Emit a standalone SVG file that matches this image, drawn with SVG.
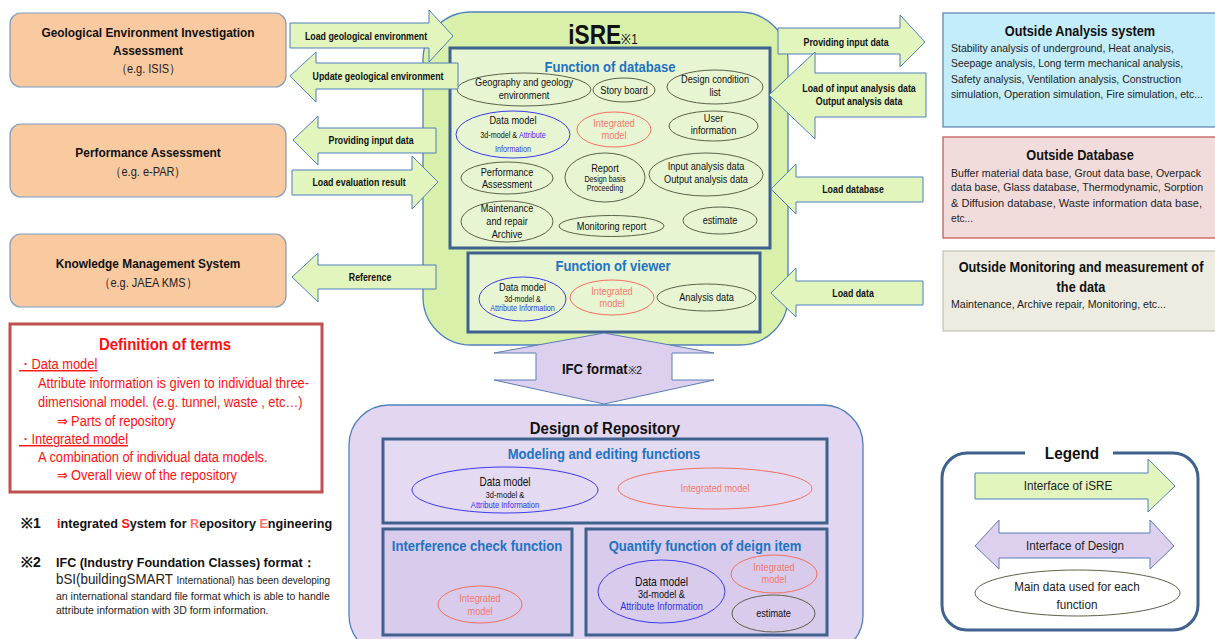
<svg xmlns="http://www.w3.org/2000/svg" width="1215" height="639" viewBox="0 0 1215 639">
<style>
  text { font-family: 'Liberation Sans', Arial, sans-serif; fill: #111; transform-box: fill-box; transform-origin: center; }
  .sysbox { fill: #F9C9A0; stroke: #7F9DC6; stroke-width: 1.2; }
  .sysT { font-size: 13.5px; font-weight: bold; text-anchor: middle; transform: scaleX(0.88); }
  .sysS { font-size: 12.5px; text-anchor: middle; fill: #222; transform: scaleX(0.88); }
  .garrow { fill: #E1F5BD; stroke: #4F7FBE; stroke-width: 1; }
  .parrow { fill: #DDD0EF; stroke: #5A7DB5; stroke-width: 1; }
  .albl { font-size: 11px; font-weight: bold; text-anchor: middle; transform: scaleX(0.8); }
  .panel { stroke: #3E618E; stroke-width: 3; }
  .ptitle { font-size: 14.5px; font-weight: bold; fill: #1E73C2; text-anchor: middle; transform: scaleX(0.9); }
  .el { fill: none; stroke: #5B6148; stroke-width: 1; }
  .elB { fill: none; stroke: #3B3BF0; stroke-width: 1; }
  .elR { fill: none; stroke: #F2705E; stroke-width: 1; }
  .et { font-size: 11.5px; text-anchor: middle; transform: scaleX(0.8); }
  .es { font-size: 9px; text-anchor: middle; transform: scaleX(0.8); }
  .blue { fill: #3333EE; }
  .red { fill: #F47A6A; }
  .outT { font-size: 14px; font-weight: bold; text-anchor: middle; transform: scaleX(0.91); }
  .outB { font-size: 10.4px; fill: #222; }
  .def { font-size: 14px; fill: #FF1010; transform-origin: left center; transform: scaleX(0.92); }
  .leg { font-size: 13px; text-anchor: middle; fill: #222; transform: scaleX(0.9); }
  .big { font-weight: bold; text-anchor: middle; transform: scaleX(0.88); }
</style>

<!-- external systems on the left -->
<g id="geo-assessment">
  <rect class="sysbox" x="10" y="13" width="276" height="74" rx="11"/>
  <text class="sysT" x="148" y="37">Geological Environment Investigation</text>
  <text class="sysT" x="148" y="55">Assessment</text>
  <text class="sysS" x="148" y="73">（e.g. ISIS）</text>
</g>
<g id="performance-assessment">
  <rect class="sysbox" x="10" y="124" width="276" height="73" rx="11"/>
  <text class="sysT" x="148" y="157">Performance Assessment</text>
  <text class="sysS" x="148" y="176">（e.g. e-PAR）</text>
</g>
<g id="knowledge-management">
  <rect class="sysbox" x="10" y="234" width="276" height="73" rx="11"/>
  <text class="sysT" x="148" y="268">Knowledge Management System</text>
  <text class="sysS" x="148" y="287">（e.g. JAEA KMS）</text>
</g>

<!-- iSRE core -->
<g id="isre">
  <rect x="423" y="12" width="365" height="333" rx="48" fill="#D8F0AA" stroke="#4F81BD" stroke-width="1.3"/>
  <text class="big" x="603" y="44" style="font-size:27px;transform:scaleX(0.84)">iSRE<tspan style="font-size:14px;font-weight:normal">※1</tspan></text>
</g>

<g id="function-of-database">
  <rect class="panel" x="450" y="48" width="320" height="200" fill="#E8F5D3"/>
  <text class="ptitle" x="610" y="72">Function of database</text>
  <ellipse class="el" cx="524" cy="89.5" rx="67" ry="16.5"/>
  <text class="et" x="524" y="86">Geography and geology</text>
  <text class="et" x="524" y="99">environment</text>
  <ellipse class="el" cx="624" cy="90" rx="31" ry="12"/>
  <text class="et" x="624" y="94">Story board</text>
  <ellipse class="el" cx="715" cy="87" rx="48" ry="17"/>
  <text class="et" x="715" y="83">Design condition</text>
  <text class="et" x="715" y="96">list</text>
  <ellipse class="elB" cx="513" cy="134.5" rx="57" ry="23.5"/>
  <text class="et" x="513" y="124">Data model</text>
  <text class="es" x="513" y="138">3d-model  &amp;  <tspan class="blue">Attribute</tspan></text>
  <text class="es blue" x="513" y="152">Information</text>
  <ellipse class="elR" cx="614" cy="129.5" rx="37" ry="17.5"/>
  <text class="et red" x="614" y="127">Integrated</text>
  <text class="et red" x="614" y="139">model</text>
  <ellipse class="el" cx="713.5" cy="126" rx="44.5" ry="15"/>
  <text class="et" x="713.5" y="122">User</text>
  <text class="et" x="713.5" y="134">information</text>
  <ellipse class="el" cx="507" cy="178" rx="46" ry="16"/>
  <text class="et" x="507" y="176">Performance</text>
  <text class="et" x="507" y="188">Assessment</text>
  <ellipse class="el" cx="605" cy="177.5" rx="40" ry="24.5"/>
  <text class="et" x="605" y="172">Report</text>
  <text class="es" x="605" y="182">Design basis</text>
  <text class="es" x="605" y="191">Proceeding</text>
  <ellipse class="el" cx="706" cy="174.5" rx="57" ry="21.5"/>
  <text class="et" x="706" y="170">Input analysis data</text>
  <text class="et" x="706" y="183">Output analysis data</text>
  <ellipse class="el" cx="507" cy="221.5" rx="46" ry="20.5"/>
  <text class="et" x="507" y="212">Maintenance</text>
  <text class="et" x="507" y="225">and repair</text>
  <text class="et" x="507" y="238">Archive</text>
  <ellipse class="el" cx="611.5" cy="226" rx="52.5" ry="10.5"/>
  <text class="et" x="611.5" y="230">Monitoring report</text>
  <ellipse class="el" cx="720" cy="220.5" rx="37" ry="13.5"/>
  <text class="et" x="720" y="224.5">estimate</text>
</g>

<g id="function-of-viewer">
  <rect class="panel" x="468" y="253" width="292" height="79" fill="#E8F5D3"/>
  <text class="ptitle" x="613" y="271">Function of viewer</text>
  <ellipse class="elB" cx="522.5" cy="299" rx="43.5" ry="22"/>
  <text class="et" x="522.5" y="291">Data model</text>
  <text class="es" x="522.5" y="302">3d-model &amp;</text>
  <text class="es blue" x="522.5" y="311">Attribute Information</text>
  <ellipse class="elR" cx="612" cy="297.5" rx="42" ry="17.5"/>
  <text class="et red" x="612" y="295">Integrated</text>
  <text class="et red" x="612" y="307">model</text>
  <ellipse class="el" cx="706.5" cy="297.5" rx="49.5" ry="13.5"/>
  <text class="et" x="706.5" y="301.5">Analysis data</text>
</g>

<!-- external systems on the right -->
<g id="outside-analysis">
  <rect x="943" y="13" width="275" height="114" fill="#C4EDFB" stroke="#5B7FB0" stroke-width="1.2"/>
  <text class="outT" x="1080" y="36">Outside Analysis system</text>
  <text class="outB" x="951" y="52" textLength="223" lengthAdjust="spacingAndGlyphs">Stability  analysis of underground, Heat analysis,</text>
  <text class="outB" x="951" y="67" textLength="232" lengthAdjust="spacingAndGlyphs">Seepage analysis,  Long term mechanical  analysis,</text>
  <text class="outB" x="951" y="83" textLength="230" lengthAdjust="spacingAndGlyphs">Safety  analysis, Ventilation  analysis,  Construction</text>
  <text class="outB" x="951" y="98" textLength="252" lengthAdjust="spacingAndGlyphs">simulation,  Operation  simulation,  Fire simulation,  etc...</text>
</g>
<g id="outside-database">
  <rect x="943" y="137" width="275" height="101" fill="#F2DCDB" stroke="#C0504D" stroke-width="1.2"/>
  <text class="outT" x="1080" y="160">Outside Database</text>
  <text class="outB" x="951" y="177" textLength="250" lengthAdjust="spacingAndGlyphs">Buffer  material  data base, Grout data base,  Overpack</text>
  <text class="outB" x="951" y="191" textLength="252" lengthAdjust="spacingAndGlyphs">data base, Glass database,  Thermodynamic,   Sorption</text>
  <text class="outB" x="951" y="207" textLength="251" lengthAdjust="spacingAndGlyphs">&amp;  Diffusion   database, Waste  information  data base,</text>
  <text class="outB" x="951" y="222" textLength="22" lengthAdjust="spacingAndGlyphs">etc...</text>
</g>
<g id="outside-monitoring">
  <rect x="943" y="251" width="275" height="80" fill="#EEECE1" stroke="#C4C0B4" stroke-width="1.2"/>
  <text class="outT" x="1081" y="272">Outside Monitoring and measurement of</text>
  <text class="outT" x="1081" y="292">the data</text>
  <text class="outB" x="951" y="308" textLength="215" lengthAdjust="spacingAndGlyphs">Maintenance,  Archive repair, Monitoring,  etc...</text>
</g>

<!-- design of repository -->
<g id="design-of-repository">
  <rect x="349" y="405" width="514" height="250" rx="40" fill="#E2D6F0" stroke="#4F81BD" stroke-width="1.3"/>
  <text class="big" x="605" y="434" style="font-size:17px">Design of Repository</text>
</g>
<g id="modeling-editing">
  <rect class="panel" x="383" y="439" width="444" height="84" fill="#E4DAF2"/>
  <text class="ptitle" x="604" y="459">Modeling and editing functions</text>
  <ellipse class="elB" cx="505" cy="490" rx="93" ry="23"/>
  <text class="et" x="505" y="486" style="font-size:12.5px">Data model</text>
  <text class="es" x="505" y="498" style="font-size:9.5px">3d-model    &amp;</text>
  <text class="es blue" x="505" y="508" style="font-size:9.5px">Attribute  Information</text>
  <ellipse class="elR" cx="715" cy="488.5" rx="97" ry="20.5"/>
  <text class="et red" x="715" y="492">Integrated model</text>
</g>
<g id="interference-check">
  <rect class="panel" x="383" y="529" width="189" height="106" fill="#D8CBEC"/>
  <text class="ptitle" x="477" y="551">Interference  check  function</text>
  <ellipse class="elR" cx="480" cy="604.5" rx="42" ry="18.5"/>
  <text class="et red" x="480" y="602">Integrated</text>
  <text class="et red" x="480" y="615">model</text>
</g>
<g id="quantify-function">
  <rect class="panel" x="586" y="529" width="241" height="106" fill="#D8CBEC"/>
  <text class="ptitle" x="705" y="551">Quantify  function  of  deign  item</text>
  <ellipse class="elB" cx="661.5" cy="591.5" rx="63.5" ry="31.5"/>
  <text class="et" x="661.5" y="586" style="font-size:13px">Data model</text>
  <text class="et" x="661.5" y="598">3d-model  &amp;</text>
  <text class="et blue" x="661.5" y="610">Attribute Information</text>
  <ellipse class="elR" cx="774" cy="574" rx="43" ry="19"/>
  <text class="et red" x="774" y="571">Integrated</text>
  <text class="et red" x="774" y="583">model</text>
  <ellipse class="el" cx="773.5" cy="613.5" rx="41.5" ry="18.5"/>
  <text class="et" x="773.5" y="617.5">estimate</text>
</g>

<!-- interface arrows -->
<g id="connectors">
  <path class="garrow" d="M290,23 H429 V10 L453,36 L429,62 V48 H290 Z"/>
  <text class="albl" x="366" y="40">Load geological environment</text>
  <path class="garrow" d="M290,76 L316,52 V63 H458 V89 H316 V102 Z"/>
  <text class="albl" x="378" y="80">Update geological environment</text>
  <path class="garrow" d="M293,140 L318,116 V128 H436 V153 H318 V165 Z"/>
  <text class="albl" x="371" y="144">Providing input data</text>
  <path class="garrow" d="M292,170 H412 V156 L438,182 L412,209 V195 H292 Z"/>
  <text class="albl" x="359" y="186">Load evaluation result</text>
  <path class="garrow" d="M292,277 L318,253 V265 H436 V289 H318 V302 Z"/>
  <text class="albl" x="370" y="281">Reference</text>

  <path class="garrow" d="M778,28 H900 V15 L925,42 L900,67 V54 H778 Z"/>
  <text class="albl" x="846" y="46">Providing input data</text>
  <path class="garrow" d="M769,95 L815,52 V73 H926 V117 H815 V139 Z"/>
  <text class="albl" x="859" y="92">Load of input analysis data</text>
  <text class="albl" x="859" y="105">Output analysis data</text>
  <path class="garrow" d="M771,189 L796,164 V177 H923 V202 H796 V214 Z"/>
  <text class="albl" x="853" y="193">Load database</text>
  <path class="garrow" d="M771,293 L796,268 V281 H923 V305 H796 V317 Z"/>
  <text class="albl" x="853" y="297">Load data</text>

  <path class="parrow" d="M604,333 L714,353 H672 V380 H714 L604,404 L494,380 H536 V353 H494 Z"/>
  <text class="big" x="602" y="374" style="font-size:14px;transform:scaleX(0.94)">IFC format<tspan style="font-size:11px;font-weight:normal">※2</tspan></text>
</g>

<!-- definitions -->
<g id="definition-of-terms">
  <rect x="10" y="324" width="312" height="168" fill="#FFFFFF" stroke="#C0504D" stroke-width="3"/>
  <text class="big" x="165" y="350" style="font-size:17px;fill:#FF1010">Definition of terms</text>
  <text class="def" x="19" y="369" text-decoration="underline">・Data model</text>
  <text class="def" x="38" y="388">Attribute  information is given to individual three-</text>
  <text class="def" x="38" y="407">dimensional model. (e.g. tunnel, waste , etc…)</text>
  <text class="def" x="57" y="426">⇒ Parts of repository</text>
  <text class="def" x="19" y="444" text-decoration="underline">・Integrated model</text>
  <text class="def" x="38" y="462">A combination of individual data models.</text>
  <text class="def" x="57" y="480">⇒ Overall view of the repository</text>
</g>

<!-- footnotes -->
<g id="notes">
  <text x="21" y="528" style="font-size:14px;font-weight:bold">※1</text>
  <text x="57" y="528" style="font-size:13.5px;font-weight:bold;transform-origin:left center;transform:scaleX(0.935)"><tspan fill="#FF1010">i</tspan>ntegrated <tspan fill="#FF1010">S</tspan>ystem for <tspan fill="#FF7070">R</tspan>epository <tspan fill="#FF7070">E</tspan>ngineering</text>
  <text x="21" y="567" style="font-size:14px;font-weight:bold">※2</text>
  <text x="56" y="567" style="font-size:13px;font-weight:bold;transform-origin:left center;transform:scaleX(0.965)">IFC (Industry Foundation Classes)  format：</text>
  <text x="56" y="584" style="font-size:14px;fill:#222;transform-origin:left center;transform:scaleX(0.955)">bSI(buildingSMART <tspan style="font-size:10.5px">International)  has been developing</tspan></text>
  <text x="56" y="600" style="font-size:10.5px;fill:#222">an international  standard file  format which is able to handle</text>
  <text x="56" y="614" style="font-size:10.5px;fill:#222">attribute  information  with 3D form information.</text>
</g>

<!-- legend -->
<g id="legend">
  <rect x="942" y="453" width="256" height="177" rx="25" fill="#FFFFFF" stroke="#3E618E" stroke-width="3"/>
  <rect x="1025" y="445" width="88" height="16" fill="#FFFFFF"/>
  <text class="big" x="1072" y="459" style="font-size:17px;transform:scaleX(0.9)">Legend</text>
  <path class="garrow" d="M975,473 H1148 V459 L1175,486 L1148,512 V499 H975 Z"/>
  <text class="leg" x="1068" y="490">Interface of iSRE</text>
  <path class="parrow" d="M975,546 L999,520 V533 H1150 V520 L1174,546 L1150,569 V558 H999 V569 Z"/>
  <text class="leg" x="1075" y="550">Interface of Design</text>
  <ellipse class="el" cx="1077.5" cy="593" rx="102.5" ry="23"/>
  <text class="leg" x="1077" y="591">Main data used for each</text>
  <text class="leg" x="1077" y="609">function</text>
</g>
</svg>
